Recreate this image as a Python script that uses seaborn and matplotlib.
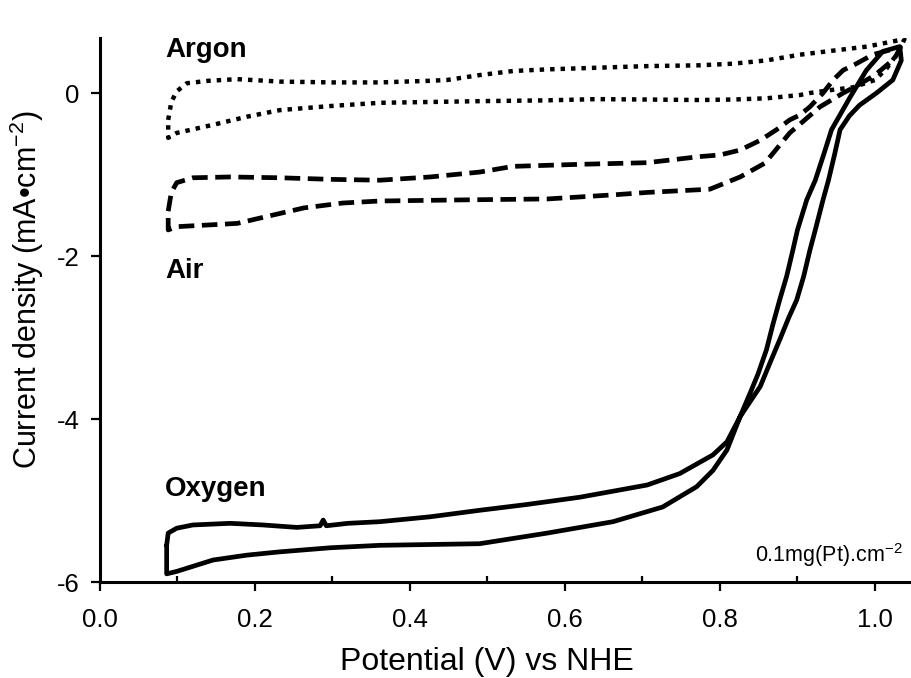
import numpy as np
import pandas as pd
import matplotlib
matplotlib.use("Agg")
import matplotlib.pyplot as plt
import seaborn as sns

# ---------------- data ----------------
# Argon (dotted) closed CV loop: potential (V) and current density (mA/cm2)
argon_v = [0.088, 0.092, 0.099, 0.112, 0.14, 0.177, 0.232, 0.30, 0.361, 0.426, 0.448, 0.49,
           0.533, 0.577, 0.641, 0.706, 0.774, 0.817, 0.860, 0.903, 0.946, 0.990, 1.032, 1.038,
           1.030, 1.015, 1.0, 0.972, 0.946, 0.916, 0.903, 0.860, 0.817, 0.774, 0.706, 0.641,
           0.577, 0.49, 0.426, 0.361, 0.297, 0.232, 0.19, 0.146, 0.099, 0.088, 0.088]
argon_j = [-0.33, -0.11, 0.02, 0.12, 0.15, 0.17, 0.14, 0.13, 0.13, 0.15, 0.16, 0.22,
           0.27, 0.29, 0.31, 0.33, 0.34, 0.36, 0.40, 0.47, 0.52, 0.57, 0.65, 0.66,
           0.50, 0.30, 0.16, 0.07, 0.04, 0.0, -0.025, -0.065, -0.08, -0.086, -0.08, -0.075,
           -0.09, -0.10, -0.11, -0.12, -0.16, -0.21, -0.29, -0.39, -0.49, -0.55, -0.33]

# Air (dashed) closed CV loop
air_v = [0.088, 0.092, 0.099, 0.12, 0.168, 0.232, 0.30, 0.361, 0.426, 0.49, 0.533, 0.619,
         0.706, 0.774, 0.80, 0.826, 0.852, 0.873, 0.890, 0.903, 0.916, 0.933, 0.946, 0.959,
         0.976, 0.997, 1.02, 1.033, 1.025, 1.0, 0.975, 0.959, 0.929, 0.890, 0.858, 0.826,
         0.787, 0.706, 0.662, 0.577, 0.48, 0.361, 0.313, 0.263, 0.213, 0.177, 0.099, 0.088, 0.088]
air_j = [-1.45, -1.22, -1.10, -1.04, -1.03, -1.04, -1.06, -1.07, -1.03, -0.97, -0.90, -0.875,
         -0.855, -0.78, -0.76, -0.70, -0.58, -0.45, -0.33, -0.27, -0.17, 0.0, 0.16, 0.28,
         0.36, 0.47, 0.53, 0.56, 0.42, 0.22, 0.08, 0.0, -0.17, -0.49, -0.86, -1.03,
         -1.18, -1.22, -1.25, -1.30, -1.31, -1.325, -1.35, -1.41, -1.52, -1.60, -1.64, -1.68, -1.45]

# Oxygen (solid) closed CV loop
oxy_v = [0.086, 0.088, 0.099, 0.12, 0.168, 0.21, 0.254, 0.284, 0.288, 0.292, 0.32, 0.361,
         0.426, 0.49, 0.55, 0.619, 0.706, 0.748, 0.791, 0.809, 0.826, 0.852, 0.865, 0.877,
         0.889, 0.899, 0.908, 0.916, 0.923, 0.933, 0.940, 0.948, 0.955, 0.967, 0.980, 1.002,
         1.023, 1.034, 1.032, 1.010, 0.989, 0.968, 0.944, 0.934, 0.923, 0.912, 0.900, 0.894,
         0.886, 0.877, 0.868, 0.860, 0.849, 0.839, 0.826, 0.809, 0.791, 0.770, 0.726, 0.662,
         0.577, 0.49, 0.361, 0.297, 0.232, 0.19, 0.146, 0.099, 0.086, 0.086]
oxy_j = [-5.55, -5.40, -5.34, -5.30, -5.28, -5.30, -5.33, -5.31, -5.24, -5.31, -5.28, -5.26,
         -5.20, -5.12, -5.05, -4.96, -4.81, -4.67, -4.44, -4.28, -3.97, -3.60, -3.30, -3.03,
         -2.75, -2.54, -2.25, -1.93, -1.68, -1.31, -1.07, -0.75, -0.45, -0.28, -0.15, 0.0,
         0.16, 0.40, 0.57, 0.51, 0.28, -0.05, -0.45, -0.75, -1.07, -1.31, -1.68, -1.93,
         -2.25, -2.54, -2.85, -3.15, -3.45, -3.68, -3.97, -4.38, -4.63, -4.83, -5.08, -5.26,
         -5.40, -5.53, -5.55, -5.58, -5.63, -5.67, -5.73, -5.87, -5.90, -5.55]

x_ticks = [0.0, 0.2, 0.4, 0.6, 0.8, 1.0]
x_tick_labels = ["0.0", "0.2", "0.4", "0.6", "0.8", "1.0"]
x_minor_ticks = [0.1, 0.3, 0.5, 0.7, 0.9]
y_ticks = [-6, -4, -2, 0]
y_tick_labels = ["-6", "-4", "-2", "0"]

# ---------------- style ----------------
sns.set_theme(style="ticks")
plt.rcParams["font.family"] = ["Liberation Sans", "DejaVu Sans"]
plt.rcParams["mathtext.fontset"] = "custom"
plt.rcParams["mathtext.rm"] = "Liberation Sans"
plt.rcParams["mathtext.it"] = "Liberation Sans:italic"
plt.rcParams["mathtext.bf"] = "Liberation Sans:bold"
plt.rcParams["axes.unicode_minus"] = False
plt.rcParams["text.color"] = "black"
plt.rcParams["axes.labelcolor"] = "black"
plt.rcParams["xtick.color"] = "black"
plt.rcParams["ytick.color"] = "black"

fig = plt.figure(figsize=(9.12, 6.78), dpi=100)
ax = fig.add_axes([100 / 912, 1 - 582 / 678, 811 / 912, (582 - 38) / 678])


def make_df(v, j):
    return pd.DataFrame({"V": v, "J": j, "order": np.arange(len(v))})


common = dict(x="V", y="J", sort=False, estimator=None, ax=ax, color="black", legend=False)

sns.lineplot(data=make_df(argon_v, argon_j), lw=3.2, **common)
line_ar = ax.lines[-1]
line_ar.set_linestyle((0, (1.0, 1.35)))
line_ar.set_dash_capstyle("butt")

sns.lineplot(data=make_df(air_v, air_j), lw=3.4, **common)
line_air = ax.lines[-1]
line_air.set_linestyle((0, (3.3, 1.6)))
line_air.set_dash_capstyle("butt")

sns.lineplot(data=make_df(oxy_v, oxy_j), lw=3.4, **common)
ax.lines[-1].set_solid_joinstyle("round")

ax.set_xlim(0, 1.0465)
ax.set_ylim(-6, 0.675)

ax.set_xticks(x_ticks)
ax.set_xticklabels(x_tick_labels)
ax.set_xticks(x_minor_ticks, minor=True)
ax.set_yticks(y_ticks)
ax.set_yticklabels(y_tick_labels)

ax.tick_params(axis="both", which="major", direction="out", length=6.5, width=1.6,
               labelsize=18.5, color="black", labelcolor="black")
ax.tick_params(axis="x", which="minor", direction="in", length=4.5, width=1.6, color="black")
ax.tick_params(axis="x", which="major", pad=12)
ax.tick_params(axis="y", which="major", pad=8)

for s in ["top", "right"]:
    ax.spines[s].set_visible(False)
for s in ["left", "bottom"]:
    ax.spines[s].set_linewidth(2.2)
    ax.spines[s].set_color("black")

ax.set_xlabel("Potential (V) vs NHE", fontsize=23, color="black")
ax.set_ylabel("Current density (mA\u2022cm$^{-2}$)", fontsize=22, color="black")
ax.xaxis.set_label_coords(0.477, -0.119)
ax.yaxis.set_label_coords(-0.066, 0.537)

ax.text(0.084, 0.44, "Argon", fontsize=20, fontweight="bold", ha="left", va="baseline")
ax.text(0.084, -2.27, "Air", fontsize=20, fontweight="bold", ha="left", va="baseline")
ax.text(0.084, -4.94, "Oxygen", fontsize=20, fontweight="bold", ha="left", va="baseline")
ax.text(0.845, -5.75, "0.1mg(Pt).cm$^{-2}$", fontsize=15.5, ha="left", va="baseline")

fig.savefig("out.png", dpi=100)
